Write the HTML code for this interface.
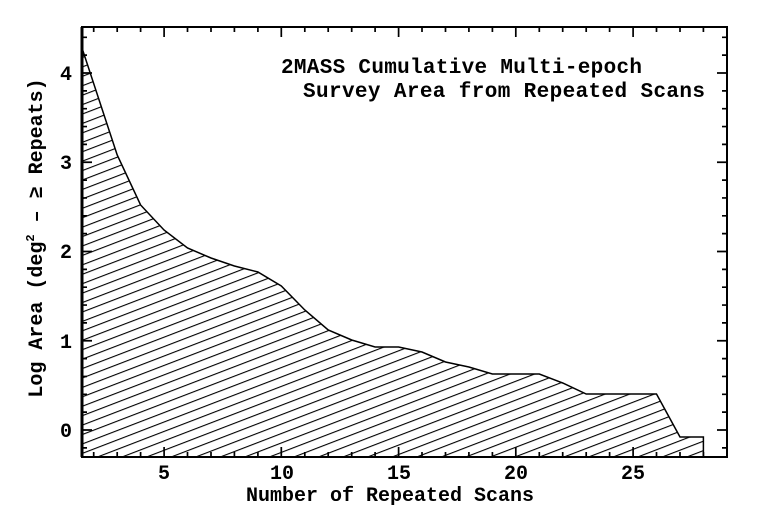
<!DOCTYPE html>
<html><head><style>body{margin:0;background:#fff}svg{display:block}</style></head><body>
<svg width="768" height="512" viewBox="0 0 768 512" xmlns="http://www.w3.org/2000/svg" font-family="Liberation Mono, monospace" font-weight="bold">
<defs>
<pattern id="h" patternUnits="userSpaceOnUse" width="20" height="8.8" patternTransform="rotate(-21)">
<line x1="0" y1="4" x2="20" y2="4" stroke="#000" stroke-width="1.1"/>
</pattern>
</defs>
<polygon points="82,48 117.2,155 140.6,205 164,230 187.5,248 211,258 234.4,266 257.9,272 281.3,286 304.8,310 328.2,330 351.7,340 375.1,347 398.6,347 422,352 445.5,362 468.9,367 492.4,374 539.3,374 562.7,383 586.2,394 656.5,394 680,437 703.4,437 703.4,457 82,457" fill="url(#h)" stroke="#000" stroke-width="1.5"/>
<g stroke="#000" stroke-width="2">
<rect x="82" y="27" width="645" height="430" fill="none"/>
<line x1="82" y1="27" x2="82" y2="457" stroke-width="3"/>
</g>
<path stroke="#000" stroke-width="1.7" fill="none" d="
M93.7 457v-5M117.2 457v-5M140.6 457v-5M164.1 457v-10M187.5 457v-5M211 457v-5M234.4 457v-5M257.9 457v-5M281.3 457v-10M304.8 457v-5M328.2 457v-5M351.7 457v-5M375.1 457v-5M398.6 457v-10M422 457v-5M445.5 457v-5M468.9 457v-5M492.4 457v-5M515.8 457v-10M539.3 457v-5M562.7 457v-5M586.2 457v-5M609.6 457v-5M633.1 457v-10M656.5 457v-5M680 457v-5M703.4 457v-5
M93.7 27v5M117.2 27v5M140.6 27v5M164.1 27v10M187.5 27v5M211 27v5M234.4 27v5M257.9 27v5M281.3 27v10M304.8 27v5M328.2 27v5M351.7 27v5M375.1 27v5M398.6 27v10M422 27v5M445.5 27v5M468.9 27v5M492.4 27v5M515.8 27v10M539.3 27v5M562.7 27v5M586.2 27v5M609.6 27v5M633.1 27v10M656.5 27v5M680 27v5M703.4 27v5
M82 447.85h5M82 430h10M82 412.15h5M82 394.3h5M82 376.45h5M82 358.6h5M82 340.75h10M82 322.9h5M82 305.05h5M82 287.2h5M82 269.35h5M82 251.5h10M82 233.65h5M82 215.8h5M82 197.95h5M82 180.1h5M82 162.25h10M82 144.4h5M82 126.55h5M82 108.7h5M82 90.85h5M82 73h10M82 55.15h5M82 37.3h5
M727 447.85h-5M727 430h-10M727 412.15h-5M727 394.3h-5M727 376.45h-5M727 358.6h-5M727 340.75h-10M727 322.9h-5M727 305.05h-5M727 287.2h-5M727 269.35h-5M727 251.5h-10M727 233.65h-5M727 215.8h-5M727 197.95h-5M727 180.1h-5M727 162.25h-10M727 144.4h-5M727 126.55h-5M727 108.7h-5M727 90.85h-5M727 73h-10M727 55.15h-5M727 37.3h-5"/>
<g font-size="20" text-anchor="middle">
<text x="164" y="479">5</text><text x="282" y="479">10</text><text x="399" y="479">15</text><text x="516" y="479">20</text><text x="633" y="479">25</text>
</g>
<g font-size="20" text-anchor="end">
<text x="72" y="437">0</text><text x="72" y="348">1</text><text x="72" y="258">2</text><text x="72" y="169">3</text><text x="72" y="80">4</text>
</g>
<text x="390" y="501" font-size="20" text-anchor="middle">Number of Repeated Scans</text>
<text transform="translate(42,238) rotate(-90)" font-size="20" text-anchor="middle">Log Area (deg<tspan font-size="12" dy="-8">2</tspan><tspan dy="8"> – ≥ Repeats)</tspan></text>
<text x="281" y="73" font-size="21" textLength="361">2MASS Cumulative Multi-epoch</text>
<text x="303" y="97" font-size="21" textLength="402">Survey Area from Repeated Scans</text>
</svg>
</body></html>
